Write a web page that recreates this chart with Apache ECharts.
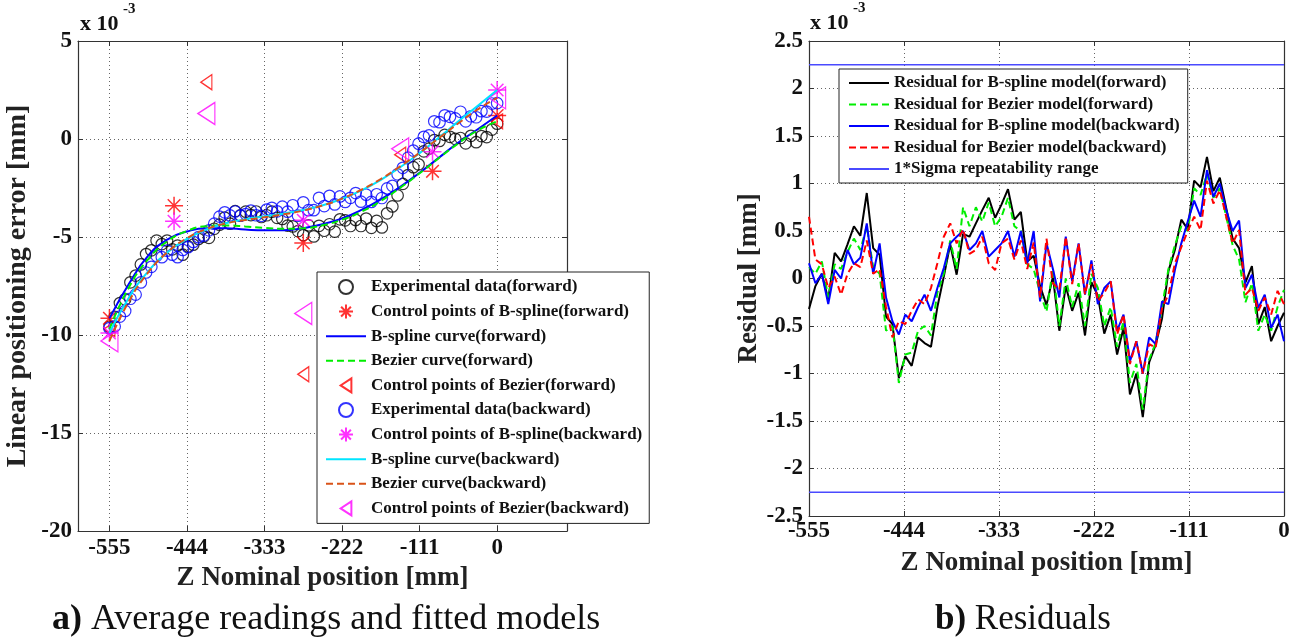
<!DOCTYPE html>
<html><head><meta charset="utf-8">
<script src="https://cdn.jsdelivr.net/npm/echarts@6/dist/echarts.min.js"></script>
<style>html,body{margin:0;padding:0;background:#fff}#c{width:1302px;height:641px}</style>
</head><body><div id="c"></div>
<script>
// ---------- data ----------
const zPos = [-555,-547.5,-540,-532.5,-525,-517.5,-510,-502.5,-495,-487.5,
  -480,-472.5,-465,-457.5,-450,-442.5,-435,-427.5,-420,-412.5,
  -405,-397.5,-390,-382.5,-375,-367.5,-360,-352.5,-345,-337.5,
  -330,-322.5,-315,-307.5,-300,-292.5,-285,-277.5,-270,-262.5,
  -255,-247.5,-240,-232.5,-225,-217.5,-210,-202.5,-195,-187.5,
  -180,-172.5,-165,-157.5,-150,-142.5,-135,-127.5,-120,-112.5,
  -105,-97.5,-90,-82.5,-75,-67.5,-60,-52.5,-45,-37.5,
  -30,-22.5,-15,-7.5,0];
const expForward = [-9.58,-9.08,-8.37,-8.18,-7.31,-6.97,-6.40,-5.87,-5.68,-5.18,
  -5.36,-5.18,-5.63,-5.44,-5.90,-5.48,-5.39,-5.10,-4.98,-5.04,
  -4.58,-4.37,-4.01,-4.32,-3.68,-3.90,-3.71,-3.88,-3.70,-3.98,
  -3.89,-3.71,-4.02,-4.08,-4.42,-4.46,-4.70,-4.90,-4.41,-4.97,
  -4.43,-4.68,-4.35,-4.73,-4.10,-4.15,-4.44,-4.13,-4.44,-4.06,
  -4.53,-4.18,-4.51,-3.79,-3.44,-2.88,-2.29,-1.84,-1.44,-1.29,
  -0.63,-0.49,-0.06,-0.10,0.21,0.11,0.01,0.05,-0.22,0.16,
  -0.16,0.15,0.10,0.48,0.78];
const expBackward = [-9.65,-9.56,-9.06,-8.77,-8.15,-7.94,-7.32,-6.81,-6.52,-5.96,
  -6.03,-5.70,-5.90,-6.03,-5.66,-5.52,-5.25,-5.01,-4.93,-4.66,
  -4.32,-3.96,-3.74,-3.90,-3.70,-3.91,-3.83,-3.65,-3.89,-3.92,
  -3.60,-3.51,-3.69,-3.45,-3.71,-3.38,-3.91,-3.23,-3.63,-3.63,
  -3.00,-3.42,-2.90,-3.34,-2.93,-3.21,-3.00,-2.76,-3.20,-2.84,
  -3.21,-2.82,-3.01,-2.52,-2.39,-1.80,-1.47,-0.95,-0.59,-0.24,
  0.11,0.18,0.90,0.86,1.21,1.13,1.05,1.39,0.90,1.16,
  1.11,1.42,1.40,1.81,1.83];

const curveX = [-555,-527.25,-499.5,-471.75,-444,-416.25,-388.5,-360.75,-333,-305.25,
  -277.5,-249.75,-222,-194.25,-166.5,-138.75,-111,-83.25,-55.5,-27.75,0];
const bsplineForward = [-9.15,-7.40,-5.95,-5.12,-4.72,-4.55,-4.55,-4.62,-4.66,-4.65,
  -4.55,-4.35,-4.05,-3.62,-3.08,-2.44,-1.72,-0.95,-0.18,0.50,1.20];
const bezierForward = [-9.70,-7.58,-6.13,-5.21,-4.69,-4.45,-4.41,-4.46,-4.54,-4.58,
  -4.55,-4.40,-4.12,-3.71,-3.16,-2.49,-1.75,-0.97,-0.22,0.44,0.90];
const bsplineBackward = [-9.90,-8.10,-6.75,-5.78,-5.10,-4.62,-4.30,-4.10,-3.95,-3.80,
  -3.62,-3.38,-3.05,-2.62,-2.08,-1.44,-0.72,0.08,0.90,1.70,2.50];
const bezierBackward = [-10.30,-8.29,-6.81,-5.77,-5.06,-4.60,-4.31,-4.13,-3.99,-3.84,
  -3.65,-3.39,-3.04,-2.59,-2.04,-1.40,-0.70,0.05,0.80,1.51,2.10];

const bsCtrlX = [-555,-462.5,-277.5,-92.5,0];
const bsCtrlForward = [-9.15,-3.4,-5.3,-1.65,1.2];
const bsCtrlBackward = [-9.9,-4.2,-4.15,-0.65,2.5];
const bzCtrlX = [-555,-416.25,-277.5,-138.75,0];
const bzCtrlForward = [-9.7,2.9,-12.0,-0.8,0.9];
const bzCtrlBackward = [-10.3,1.3,-8.9,-0.5,2.1];

const resBsForward = [-0.32,-0.08,0.05,-0.22,0.27,0.18,0.36,0.55,0.45,0.90,
  0.32,0.25,-0.40,-0.48,-1.05,-0.82,-0.92,-0.62,-0.68,-0.72,
  -0.30,0.02,0.36,0.04,0.47,0.44,0.58,0.72,0.85,0.64,
  0.78,0.94,0.62,0.70,0.18,0.24,-0.08,-0.28,0.02,-0.55,
  -0.08,-0.34,-0.15,-0.60,-0.04,-0.18,-0.58,-0.38,-0.80,-0.52,
  -1.22,-1.00,-1.46,-0.88,-0.70,-0.42,0.08,0.30,0.62,0.52,
  1.03,0.96,1.28,0.92,1.06,0.74,0.42,0.32,-0.04,0.13,
  -0.48,-0.30,-0.66,-0.50,-0.36];
const resBzForward = [0.12,0.05,0.18,-0.20,0.15,0.10,0.28,0.42,0.30,0.55,
  0.12,0.05,-0.55,-0.50,-1.10,-0.80,-0.78,-0.55,-0.50,-0.60,
  -0.15,0.05,0.40,0.10,0.75,0.55,0.75,0.60,0.80,0.55,
  0.65,0.85,0.55,0.50,0.15,0.10,-0.15,-0.35,0.10,-0.50,
  0.00,-0.30,-0.05,-0.50,0.05,-0.10,-0.50,-0.30,-0.72,-0.45,
  -1.10,-0.90,-1.38,-0.85,-0.68,-0.30,0.10,0.35,0.55,0.50,
  0.95,0.88,1.10,0.85,0.95,0.65,0.35,0.20,-0.25,-0.05,
  -0.55,-0.38,-0.55,-0.30,-0.12];
const resBsBackward = [0.16,-0.05,0.05,-0.27,0.09,0.00,0.30,0.15,0.22,0.58,
  0.05,0.37,-0.20,-0.45,-0.59,-0.38,-0.45,-0.30,-0.17,-0.34,
  -0.10,0.11,0.37,0.44,0.50,0.30,0.37,0.50,0.23,0.30,
  0.37,0.50,0.23,0.50,0.16,0.50,-0.24,0.37,0.10,-0.20,
  0.44,-0.03,0.37,-0.17,0.19,-0.27,-0.10,-0.03,-0.55,-0.38,
  -0.87,-0.66,-1.00,-0.62,-0.69,-0.24,-0.27,0.09,0.37,0.60,
  0.82,0.65,1.14,0.86,1.00,0.72,0.50,0.61,-0.10,0.04,
  -0.31,-0.17,-0.52,-0.38,-0.66];
const resBzBackward = [0.65,0.20,0.15,-0.10,0.02,-0.17,0.05,0.16,0.12,0.40,
  0.05,0.10,-0.30,-0.62,-0.45,-0.48,-0.34,-0.22,-0.27,-0.10,
  0.16,0.44,0.58,0.37,0.52,0.26,0.30,0.44,0.16,0.09,
  0.37,0.42,0.20,0.40,0.10,0.38,-0.20,0.42,-0.05,-0.12,
  0.44,-0.06,0.37,-0.17,0.15,-0.24,-0.15,-0.03,-0.59,-0.38,
  -0.90,-0.66,-1.00,-0.69,-0.73,-0.31,-0.17,0.16,0.33,0.50,
  0.65,0.51,1.03,0.79,0.93,0.65,0.37,0.51,-0.17,-0.10,
  -0.34,-0.20,-0.38,-0.13,-0.27];
const sigmaRange = 2.25;
const sigmaX = [-555, 0];

const xTicks = [-555,-444,-333,-222,-111,0];

// ---------- chart ----------
const FONT = 'Liberation Serif';
const pairs = (xs, ys) => xs.map((x, i) => [x, ys[i]]);
const ASTER = 'path://M10,0L10,20M0,10L20,10M3,3L17,17M3,17L17,3';
const TRI = 'path://M20,0L0,13L20,26Z';
const AX = '#333';
const NOFILL = 'rgba(0,0,0,0)';
const GRIDLINE = {show:true, lineStyle:{color:'#666', type:[1,3], width:1}};
const tickLbl = {fontFamily:FONT, fontWeight:'bold', fontSize:23, color:'#111'};
const nameStyle = (s) => ({fontFamily:FONT, fontWeight:'bold', fontSize:s, color:'#222'});
const lineItem = {color:NOFILL, borderWidth:0, borderColor:NOFILL};

function frameAxisX(grid, min, max, pos, extra) {
  return Object.assign({type:'value', gridIndex:grid, min, max, position:pos,
    axisLine:{show:true, onZero:false, lineStyle:{color:AX, width:1.2}},
    axisTick:{show:true, inside:true, length:5, customValues:xTicks, lineStyle:{color:AX}},
    axisLabel:{show:false}, splitLine:{show:false}}, extra || {});
}
function frameAxisY(grid, min, max, interval, pos) {
  return {type:'value', gridIndex:grid, min, max, interval, position:pos,
    axisLine:{show:true, onZero:false, lineStyle:{color:AX, width:1.2}},
    axisTick:{show:true, inside:true, length:5, lineStyle:{color:AX}},
    axisLabel:{show:false}, splitLine:{show:false}};
}

const option = {
  animation:false,
  backgroundColor:'#fff',
  grid:[
    {left:78, top:41, width:489, height:490},
    {left:809, top:41, width:475, height:475}
  ],
  xAxis:[
    {type:'value', gridIndex:0, min:-600, max:100, position:'bottom',
      name:'Z Nominal position [mm]', nameLocation:'middle', nameGap:33,
      nameTextStyle:nameStyle(27),
      axisLine:{show:true, onZero:false, lineStyle:{color:AX, width:1.2}},
      axisTick:{show:true, inside:true, length:5, customValues:xTicks, lineStyle:{color:AX}},
      axisLabel:Object.assign({customValues:xTicks, margin:6}, tickLbl),
      splitLine:GRIDLINE},
    frameAxisX(0, -600, 100, 'top'),
    {type:'value', gridIndex:1, min:-555, max:0, interval:111, position:'bottom',
      name:'Z Nominal position [mm]', nameLocation:'middle', nameGap:34,
      nameTextStyle:nameStyle(27),
      axisLine:{show:true, onZero:false, lineStyle:{color:AX, width:1.2}},
      axisTick:{show:true, inside:true, length:5, lineStyle:{color:AX}},
      axisLabel:Object.assign({margin:4, showMinLabel:true, showMaxLabel:true}, tickLbl),
      splitLine:GRIDLINE},
    frameAxisX(1, -555, 0, 'top', {interval:111, axisTick:{show:true, inside:true, length:5, lineStyle:{color:AX}}})
  ],
  yAxis:[
    {type:'value', gridIndex:0, min:-20, max:5, interval:5, position:'left',
      name:'Linear positioning error [mm]', nameLocation:'middle', nameGap:46,
      nameTextStyle:nameStyle(28),
      axisLine:{show:true, onZero:false, lineStyle:{color:AX, width:1.2}},
      axisTick:{show:true, inside:true, length:5, lineStyle:{color:AX}},
      axisLabel:Object.assign({margin:6}, tickLbl),
      splitLine:GRIDLINE},
    frameAxisY(0, -20, 5, 5, 'right'),
    {type:'value', gridIndex:1, min:-2.5, max:2.5, interval:0.5, position:'left',
      name:'Residual [mm]', nameLocation:'middle', nameGap:46,
      nameTextStyle:nameStyle(27),
      axisLine:{show:true, onZero:false, lineStyle:{color:AX, width:1.2}},
      axisTick:{show:true, inside:true, length:5, lineStyle:{color:AX}},
      axisLabel:Object.assign({margin:6, showMinLabel:true, showMaxLabel:true}, tickLbl),
      splitLine:GRIDLINE},
    frameAxisY(1, -2.5, 2.5, 0.5, 'right')
  ],
  legend:[
    {left:317, top:272, orient:'vertical', padding:[6.5,7,6.5,8], itemGap:7.6,
      itemWidth:40, itemHeight:14, backgroundColor:'#fff', borderColor:'#222', borderWidth:1,
      textStyle:{fontFamily:FONT, fontWeight:'bold', fontSize:17, color:'#111'},
      data:['Experimental data(forward)','Control points of B-spline(forward)','B-spline curve(forward)',
        'Bezier curve(forward)','Control points of Bezier(forward)','Experimental data(backward)',
        'Control points of B-spline(backward)','B-spline curve(backward)','Bezier curve(backward)',
        'Control points of Bezier(backward)']},
    {left:839, top:69, orient:'vertical', padding:[5.5,8,5.5,9], itemGap:4.5,
      itemWidth:40, itemHeight:14, backgroundColor:'#fff', borderColor:'#222', borderWidth:1,
      textStyle:{fontFamily:FONT, fontWeight:'bold', fontSize:17, color:'#111'},
      data:['Residual for B-spline model(forward)','Residual for Bezier model(forward)',
        'Residual for B-spline model(backward)','Residual for Bezier model(backward)',
        '1*Sigma repeatability range']}
  ],
  series:[
    {name:'Experimental data(forward)', type:'scatter', xAxisIndex:0, yAxisIndex:0,
      data:pairs(zPos, expForward), symbol:'circle', symbolSize:11.5,
      itemStyle:{color:NOFILL, borderColor:'#000', borderWidth:1.2}},
    {name:'Control points of B-spline(forward)', type:'scatter', xAxisIndex:0, yAxisIndex:0,
      data:pairs(bsCtrlX, bsCtrlForward), symbol:ASTER, symbolSize:18,
      itemStyle:{color:NOFILL, borderColor:'#ff0000', borderWidth:1.5}},
    {name:'B-spline curve(forward)', type:'line', xAxisIndex:0, yAxisIndex:0,
      data:pairs(curveX, bsplineForward), smooth:true, symbol:'none',
      lineStyle:{color:'#0000ff', width:2}, itemStyle:lineItem},
    {name:'Bezier curve(forward)', type:'line', xAxisIndex:0, yAxisIndex:0,
      data:pairs(curveX, bezierForward), smooth:true, symbol:'none',
      lineStyle:{color:'#00ee00', width:2, type:[7,4]}, itemStyle:lineItem},
    {name:'Control points of Bezier(forward)', type:'scatter', xAxisIndex:0, yAxisIndex:0,
      data:pairs(bzCtrlX, bzCtrlForward), symbol:TRI, symbolSize:[11,15],
      itemStyle:{color:NOFILL, borderColor:'#ff0000', borderWidth:1.3}},
    {name:'Experimental data(backward)', type:'scatter', xAxisIndex:0, yAxisIndex:0,
      data:pairs(zPos, expBackward), symbol:'circle', symbolSize:11.5,
      itemStyle:{color:NOFILL, borderColor:'#0000ff', borderWidth:1.2}},
    {name:'Control points of B-spline(backward)', type:'scatter', xAxisIndex:0, yAxisIndex:0,
      data:pairs(bsCtrlX, bsCtrlBackward), symbol:ASTER, symbolSize:18,
      itemStyle:{color:NOFILL, borderColor:'#ff00ff', borderWidth:1.5}},
    {name:'B-spline curve(backward)', type:'line', xAxisIndex:0, yAxisIndex:0,
      data:pairs(curveX, bsplineBackward), smooth:true, symbol:'none',
      lineStyle:{color:'#00e5ff', width:2}, itemStyle:lineItem},
    {name:'Bezier curve(backward)', type:'line', xAxisIndex:0, yAxisIndex:0,
      data:pairs(curveX, bezierBackward), smooth:true, symbol:'none',
      lineStyle:{color:'#d95319', width:2, type:[7,4]}, itemStyle:lineItem},
    {name:'Control points of Bezier(backward)', type:'scatter', xAxisIndex:0, yAxisIndex:0,
      data:pairs(bzCtrlX, bzCtrlBackward), symbol:TRI, symbolSize:[17,22],
      itemStyle:{color:NOFILL, borderColor:'#ff00ff', borderWidth:1.3}},

    {name:'Residual for B-spline model(forward)', type:'line', xAxisIndex:2, yAxisIndex:2,
      data:pairs(zPos, resBsForward), symbol:'none',
      lineStyle:{color:'#000', width:2}, itemStyle:lineItem},
    {name:'Residual for Bezier model(forward)', type:'line', xAxisIndex:2, yAxisIndex:2,
      data:pairs(zPos, resBzForward), symbol:'none',
      lineStyle:{color:'#00ee00', width:2, type:[7,4]}, itemStyle:lineItem},
    {name:'Residual for B-spline model(backward)', type:'line', xAxisIndex:2, yAxisIndex:2,
      data:pairs(zPos, resBsBackward), symbol:'none',
      lineStyle:{color:'#0000ff', width:2}, itemStyle:lineItem},
    {name:'Residual for Bezier model(backward)', type:'line', xAxisIndex:2, yAxisIndex:2,
      data:pairs(zPos, resBzBackward), symbol:'none',
      lineStyle:{color:'#ff0000', width:2, type:[7,4]}, itemStyle:lineItem},
    {name:'1*Sigma repeatability range', type:'line', xAxisIndex:2, yAxisIndex:2,
      data:sigmaX.map(x => [x, sigmaRange]), symbol:'none',
      lineStyle:{color:'#4a4aff', width:1.3}, itemStyle:lineItem},
    {name:'1*Sigma repeatability range', type:'line', xAxisIndex:2, yAxisIndex:2,
      data:sigmaX.map(x => [x, -sigmaRange]), symbol:'none',
      lineStyle:{color:'#4a4aff', width:1.3}, itemStyle:lineItem}
  ],
  graphic:[
    {type:'text', left:80, top:13, style:{text:'x 10', fontFamily:FONT, fontWeight:'bold', fontSize:22, fill:'#111'}},
    {type:'text', left:123, top:2, style:{text:'-3', fontFamily:FONT, fontWeight:'bold', fontSize:15, fill:'#111'}},
    {type:'text', left:810, top:12, style:{text:'x 10', fontFamily:FONT, fontWeight:'bold', fontSize:22, fill:'#111'}},
    {type:'text', left:853, top:1, style:{text:'-3', fontFamily:FONT, fontWeight:'bold', fontSize:15, fill:'#111'}},
    {type:'text', left:52, top:602, style:{text:'{b|a)}{n| Average readings and fitted models}',
      rich:{b:{fontFamily:FONT, fontWeight:'bold', fontSize:36, fill:'#111'},
            n:{fontFamily:FONT, fontSize:36, fill:'#111'}}}},
    {type:'text', left:935, top:602, style:{text:'{b|b)}{n| Residuals}',
      rich:{b:{fontFamily:FONT, fontWeight:'bold', fontSize:35, fill:'#111'},
            n:{fontFamily:FONT, fontSize:35, fill:'#111'}}}}
  ]
};
const chart = echarts.init(document.getElementById('c'), null, {renderer:'canvas'});
chart.setOption(option);
</script></body></html>
